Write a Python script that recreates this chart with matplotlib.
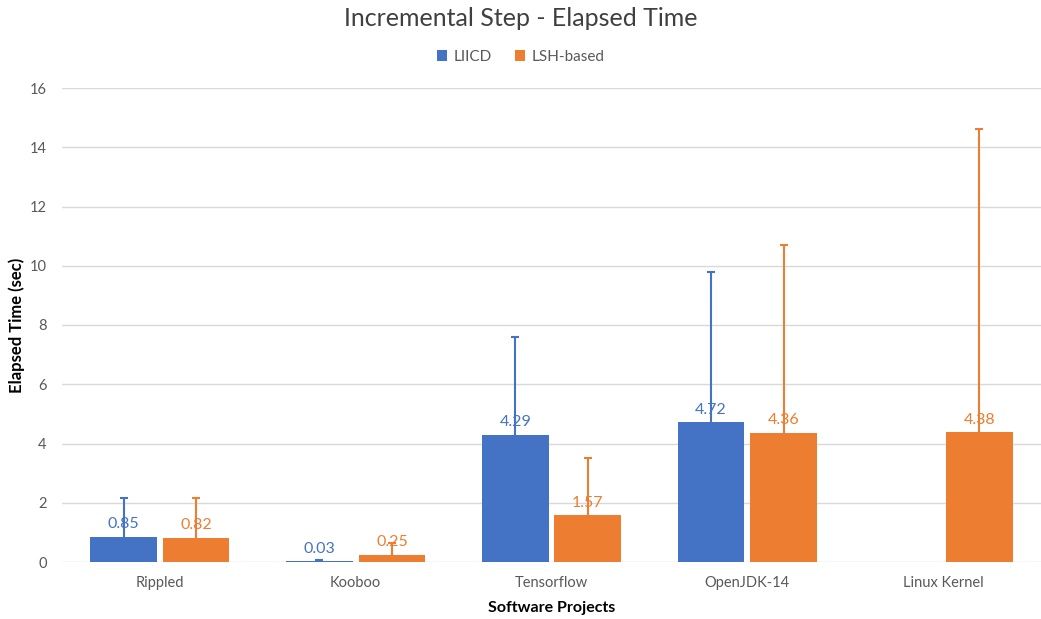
import matplotlib
matplotlib.use("Agg")
import matplotlib.pyplot as plt
import numpy as np

plt.rcParams['font.family'] = ['Lato', 'DejaVu Sans']

categories = ["Rippled", "Kooboo", "Tensorflow", "OpenJDK-14", "Linux Kernel"]
liicd = [0.85, 0.03, 4.29, 4.72, np.nan]
lsh = [0.82, 0.25, 1.57, 4.36, 4.38]
liicd_err = [1.31, 0.05, 3.30, 5.08, np.nan]
lsh_err = [1.34, 0.40, 1.93, 6.34, 10.24]
yticks = [0, 2, 4, 6, 8, 10, 12, 14, 16]

blue = "#4472C4"
orange = "#ED7D31"

fig = plt.figure(figsize=(10.41, 6.19), dpi=100)
ax = fig.add_axes([62/1041, 1 - 562/619, 1 - 62/1041, (562 - 88)/619])

x = np.arange(len(categories))
w = 0.34
gap = 0.015
xb = x - w/2 - gap
xo = x + w/2 + gap

ax.bar(xb, liicd, w, color=blue, zorder=3, label="LIICD")
ax.bar(xo, lsh, w, color=orange, zorder=3, label="LSH-based")

for xs, vals, errs, c in [(xb, liicd, liicd_err, blue), (xo, lsh, lsh_err, orange)]:
    v = np.array(vals, dtype=float)
    e = np.array(errs, dtype=float)
    m = ~np.isnan(v)
    eb = ax.errorbar(xs[m], v[m], yerr=[np.zeros(m.sum()), e[m]], fmt='none',
                     ecolor=c, elinewidth=1.5, capsize=3, capthick=1.5, zorder=4)
    eb[1][0].set_visible(False)
    for xi, vi in zip(xs[m], v[m]):
        ax.annotate(f"{vi:.2f}", (xi, vi), xytext=(0, 4), textcoords="offset points",
                    ha="center", va="bottom", fontsize=11.5, color=c, zorder=5)

ax.set_ylim(0, 16)
ax.set_xlim(-0.5, len(categories) - 0.5)
ax.set_yticks(yticks)
ax.set_xticks(x)
ax.set_xticklabels(categories)
ax.yaxis.grid(True, color="#d9d9d9", linewidth=1, zorder=0)
ax.set_axisbelow(True)
for s in ax.spines.values():
    s.set_visible(False)
ax.tick_params(axis='both', length=0, colors="#595959", labelsize=10.5)
ax.tick_params(axis='y', pad=11)
ax.tick_params(axis='x', pad=10)

fig.text(17/1041, 1 - 325/619, "Elapsed Time (sec)", rotation=90, ha="center", va="center",
         fontsize=12, fontweight="bold", color="black")
ax.set_xlabel("Software Projects", fontsize=11.5, fontweight="bold", color="black", labelpad=8)

fig.text(0.5, 1 - 18/619, "Incremental Step - Elapsed Time", ha="center", va="center",
         fontsize=18, color="#404040")
fig.legend(loc="center", bbox_to_anchor=(0.5, 1 - 57/619), ncol=2, frameon=False,
           fontsize=11, handlelength=0.7, handleheight=0.7, columnspacing=1.5,
           handletextpad=0.4, labelcolor="#595959")

fig.savefig("out.png", dpi=100)
